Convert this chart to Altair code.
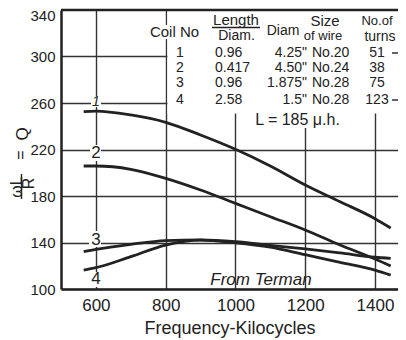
import altair as alt
import pandas as pd

# ---- data ----
freq = [565, 600, 700, 800, 900, 1000, 1100, 1200, 1300, 1400, 1445]
coil1 = [252.5, 253.0, 249.7, 243.4, 232.5, 220.2, 205.8, 189.5, 175.1, 160.5, 152.5]
coil2 = [205.8, 205.8, 203.0, 195.2, 185.2, 173.7, 162.2, 150.8, 137.8, 125.8, 119.8]
coil3 = [132.1, 134.1, 138.4, 141.6, 142.2, 140.7, 137.5, 134.5, 131.0, 127.3, 126.4]
coil4 = [116.3, 118.3, 127.8, 137.8, 142.0, 139.8, 136.0, 129.5, 123.0, 116.3, 112.0]

x_ticks = [600, 800, 1000, 1200, 1400]
y_ticks = [100, 140, 180, 220, 260, 300, 340]

coil_no = ["1", "2", "3", "4"]
ratio = ["0.96", "0.417", "0.96", "2.58"]
diam = ['4.25"', '4.50"', '1.875"', '1.5"']
wire = ["No.20", "No.24", "No.28", "No.28"]
turns = ["51", "38", "75", "123"]
curve_label_q = [260.9, 217.0, 142.5, 108.6]

# ---- layout ----
W, H = 337, 279
XMIN, XMAX = 500, 1466
YMIN, YMAX = 100, 340
FONT = "Liberation Sans"
INK = "#222222"


def fx(p):  # absolute page px -> data x
    return XMIN + (p - 61) * (XMAX - XMIN) / W


def fy(p):  # absolute page px -> data y
    return YMAX - (p - 10) * (YMAX - YMIN) / H


xs = alt.Scale(domain=[XMIN, XMAX], nice=False, zero=False)
ys = alt.Scale(domain=[YMIN, YMAX], nice=False, zero=False)

rows = []
for name, vals in zip(coil_no, [coil1, coil2, coil3, coil4]):
    for f, q in zip(freq, vals):
        rows.append({"x": f, "y": q, "coil": name})
curves_df = pd.DataFrame(rows)

base_x = alt.X(
    "x:Q", scale=xs,
    axis=alt.Axis(values=x_ticks, format="d", grid=True, ticks=False, labelFontSize=17,
                  labelPadding=8, labelColor=INK, labelFont=FONT,
                  domainWidth=2.5, domainColor=INK, gridColor="#333333",
                  gridWidth=1.4, title="Frequency-Kilocycles", titleFont=FONT,
                  titleFontSize=18, titleFontWeight="normal", titleColor=INK,
                  titleBaseline="alphabetic", titleY=44),
)
base_y = alt.Y(
    "y:Q", scale=ys,
    axis=alt.Axis(values=y_ticks[:-1], grid=True, ticks=False, labelFontSize=15,
                  labelPadding=6, labelColor=INK, labelFont=FONT,
                  domainWidth=2.5, domainColor=INK, gridColor="#333333",
                  gridWidth=1.4, title=None),
)
X = alt.X("x:Q", scale=xs)
Y = alt.Y("y:Q", scale=ys)

# white panels: behind the table (hides grid) and small gaps behind labels
wx1 = [805, fx(149), fx(251), fx(91), fx(90), fx(89), fx(88)]
wx2 = [XMAX, fx(200), fx(344), fx(101), fx(101), fx(101), fx(102)]
wy1 = [251, fy(39), fy(128), fy(107), fy(161), fy(247), fy(287)]
wy2 = [YMAX, fy(25), fy(112), fy(96), fy(145), fy(231), fy(272)]
panel = alt.Chart(pd.DataFrame({"x": wx1, "x2": wx2, "y": wy1, "y2": wy2})).mark_rect(
    color="white"
).encode(x=base_x, x2="x2:Q", y=base_y, y2="y2:Q")

curves = alt.Chart(curves_df).mark_line(
    interpolate="monotone", color=INK, strokeWidth=2.8
).encode(x=X, y=Y, detail="coil:N")


def text_layer(items, align="center", italic=False, angle=0):
    df = pd.DataFrame(items, columns=["t", "x", "y", "s"])
    kw = dict(align=align, baseline="middle", font=FONT, color=INK, angle=angle)
    if italic:
        kw["fontStyle"] = "italic"
    enc = dict(x=X, y=Y, text="t:N", size=alt.Size("s:Q", scale=None))
    return alt.Chart(df).mark_text(**kw).encode(**enc)


row_y = [53, 68, 83, 100]

center_items = [
    ("Coil No", fx(174.5), fy(32), 15),
    ("Length", fx(236), fy(20), 15),
    ("Diam.", fx(236.5), fy(36), 14),
    ("Diam", fx(283), fy(31), 14),
    ("Size", fx(325), fy(21), 15),
    ("of wire", fx(323), fy(36), 13),
    ("No.of", fx(377), fy(21), 13),
    ("turns", fx(380), fy(37), 14),
    ("L = 185 \u03bc.h.", fx(297.5), fy(120), 16),
]
center_items += [(c, fx(180), fy(r), 14) for c, r in zip(coil_no, row_y)]
center_items += [(t, fx(377), fy(r), 14) for t, r in zip(turns, row_y)]
center_items += [(c, 600, q, 17) for c, q in zip(coil_no[1:], curve_label_q[1:])]

left_items = [(v, fx(215), fy(r), 14) for v, r in zip(ratio, row_y)]
left_items += [(v, fx(312), fy(r), 14) for v, r in zip(wire, row_y)]

right_items = [(v, fx(307), fy(r), 14) for v, r in zip(diam, row_y)]
right_items += [(str(y_ticks[-1]), fx(55.5), fy(16), 15)]

italic_items = [(coil_no[0], 600, curve_label_q[0], 14),
                ("From Terman", fx(261), fy(280), 17)]

rot_items = [("\u03c9L", fx(16.5), fy(187), 16), ("R", fx(28.5), fy(183.5), 16),
             ("=", fx(20.5), fy(155), 16), ("Q", fx(22.5), fy(134), 17)]

layers = [panel, curves,
          text_layer(center_items, "center"),
          text_layer(left_items, "left"),
          text_layer(right_items, "right"),
          text_layer(italic_items, "center", italic=True),
          text_layer(rot_items, "center", angle=270)]

# fraction bar in the y title, under "Length", and the short dashes after turns
frac = alt.Chart(pd.DataFrame({"x": [fx(21.5)], "y": [fy(174)], "y2": [fy(199)]})).mark_rule(
    color=INK, strokeWidth=1.4
).encode(x=X, y=Y, y2="y2:Q")
under = alt.Chart(pd.DataFrame({"x": [fx(212)], "x2": [fx(260)], "y": [fy(27.5)]})).mark_rule(
    color=INK, strokeWidth=1.4
).encode(x=X, x2="x2:Q", y=Y)
dash = alt.Chart(pd.DataFrame({"x": [fx(392)] * 2, "x2": [fx(398)] * 2,
                               "y": [fy(row_y[0]), fy(row_y[3])]})).mark_rule(
    color=INK, strokeWidth=1.4
).encode(x=X, x2="x2:Q", y=Y)
top = alt.Chart(pd.DataFrame({"x": [XMIN]})).mark_rule(color=INK, strokeWidth=2.5).encode(
    x=alt.value(0), x2=alt.value(W), y=alt.value(0)
)
layers += [frac, under, dash, top]

chart = alt.layer(*layers).properties(
    width=W, height=H,
    autosize=alt.AutoSizeParams(type="none"),
    padding={"left": 53, "top": 2, "right": 0, "bottom": 50},
).configure_view(stroke=None).configure(background="white")

chart.save("out.html", embed_options={"renderer": "svg", "actions": False})
